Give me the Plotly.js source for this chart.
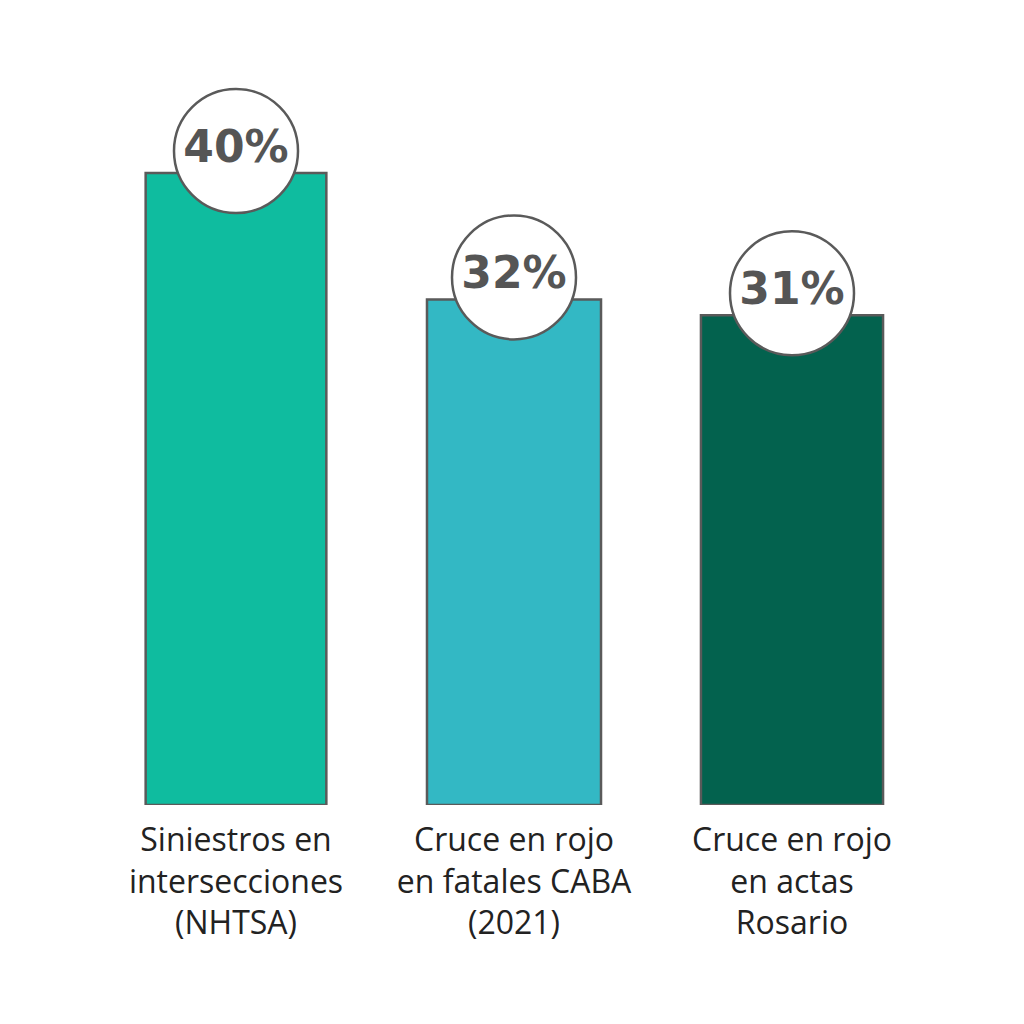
<!DOCTYPE html>
<html>
<head>
<meta charset="utf-8">
<script src="https://cdn.plot.ly/plotly-3.0.1.min.js"></script>
<style>
  html, body { margin: 0; padding: 0; background: #ffffff; }
  #chart { width: 1024px; height: 1024px; }
</style>
</head>
<body>
<div id="chart"></div>
<script>
  // datos del gráfico
  var categories = [
    "Siniestros en<br>intersecciones<br>(NHTSA)",
    "Cruce en rojo<br>en fatales CABA<br>(2021)",
    "Cruce en rojo<br>en actas<br>Rosario"
  ];
  var values = [40, 32, 31];
  var valueLabels = ["40%", "32%", "31%"];
  var barColors = ["#0fbc9f", "#33b8c4", "#03624e"];
  var barWidths = [0.65, 0.626, 0.655];

  var xs = [0, 1, 2];
  var plotH = 711;
  var pxPerUnit = plotH / 45;
  var circleLift = 22 / pxPerUnit; // el círculo se centra un poco por encima del tope

  var bars = {
    type: "bar",
    x: xs,
    y: values,
    width: barWidths,
    marker: {
      color: barColors,
      line: { color: "#5a5a5a", width: 2.5 }
    },
    hoverinfo: "skip"
  };

  var circles = {
    type: "scatter",
    mode: "markers+text",
    x: xs,
    y: values.map(function (v) { return v + circleLift; }),
    text: valueLabels,
    textposition: "middle center",
    textfont: { family: "DejaVu Sans", size: 44, color: "#555555", weight: "bold" },
    marker: {
      size: 124,
      color: "#ffffff",
      line: { color: "#5a5a5a", width: 2.5 }
    },
    cliponaxis: false,
    hoverinfo: "skip"
  };

  var layout = {
    width: 1024,
    height: 1024,
    margin: { l: 97, r: 93, t: 1024 - 219 - plotH, b: 219 },
    paper_bgcolor: "#ffffff",
    plot_bgcolor: "#ffffff",
    showlegend: false,
    bargap: 0,
    xaxis: {
      range: [-0.5, 2.5],
      tickmode: "array",
      tickvals: xs,
      ticktext: categories,
      tickfont: { family: "Open Sans", size: 32, color: "#222222" },
      ticklabelstandoff: 13,
      showgrid: false,
      zeroline: false,
      showline: false,
      ticks: "",
      fixedrange: true
    },
    yaxis: {
      range: [0, 45],
      visible: false,
      fixedrange: true
    }
  };

  Plotly.newPlot("chart", [bars, circles], layout, { displayModeBar: false, staticPlot: true });
</script>
</body>
</html>
